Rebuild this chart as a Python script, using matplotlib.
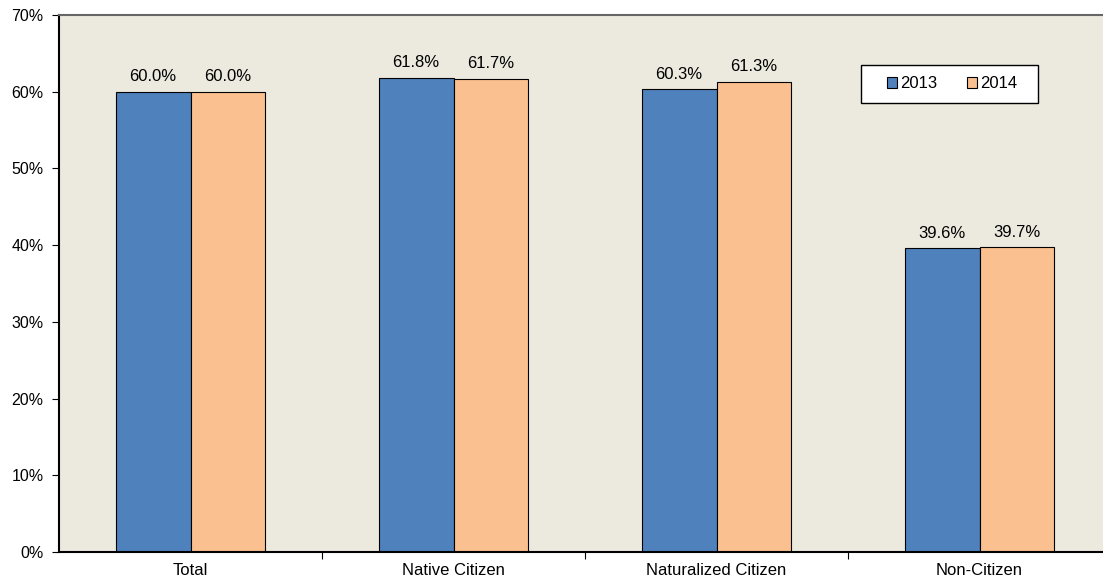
import matplotlib
matplotlib.use("Agg")
import matplotlib.pyplot as plt
from matplotlib.patches import Rectangle
import numpy as np

categories = ["Total", "Native Citizen", "Naturalized Citizen", "Non-Citizen"]
vals_2013 = [60.0, 61.8, 60.3, 39.6]
vals_2014 = [60.0, 61.7, 61.3, 39.7]
years = ["2013", "2014"]

plt.rcParams['font.family'] = ['Liberation Sans', 'DejaVu Sans']
plt.rcParams['font.size'] = 11.5

fig = plt.figure(figsize=(11.03, 5.82), dpi=100)
fig.patch.set_facecolor('white')
ax = fig.add_axes([59/1103, 30/582, 1052/1103, 537/582])
ax.set_facecolor('#ECE9DF')

x = np.arange(len(categories))
w = 0.285
b1 = ax.bar(x - w/2, vals_2013, width=w, color='#4F81BD', edgecolor='black', linewidth=0.8, label=years[0])
b2 = ax.bar(x + w/2, vals_2014, width=w, color='#FAC090', edgecolor='black', linewidth=0.8, label=years[1])

for bars, vals in [(b1, vals_2013), (b2, vals_2014)]:
    for r, v in zip(bars, vals):
        ax.annotate(f"{v:.1f}%", (r.get_x() + r.get_width()/2, v), xytext=(0, 7.5),
                    textcoords='offset points', ha='center', va='baseline', fontsize=12)

ax.set_xlim(-0.5, 3.5)
ax.set_ylim(0, 70)
ax.set_yticks(np.arange(0, 71, 10))
ax.set_yticklabels([f"{t}%" for t in range(0, 71, 10)])
ax.set_xticks(x)
ax.set_xticklabels(categories, fontsize=12)
ax.tick_params(axis='x', length=0, pad=8)
ax.set_xticks([0.5, 1.5, 2.5], minor=True)
ax.tick_params(axis='x', which='minor', length=5, direction='out', width=0.8)
ax.tick_params(axis='y', length=5, direction='out', width=0.8, pad=6)

ax.spines['left'].set_linewidth(1.5)
ax.spines['bottom'].set_linewidth(1.5)
ax.spines['top'].set_color('#666666')
ax.spines['top'].set_linewidth(1.5)
ax.spines['right'].set_visible(False)

# legend box drawn separately so the padding matches
ax.add_patch(Rectangle((802/1052, 449/537), 177/1052, 38/537, transform=ax.transAxes,
                       facecolor='white', edgecolor='black', linewidth=1.0, zorder=4))
leg = ax.legend(loc='center left', bbox_to_anchor=(828/1052, 468/537), ncol=2,
                frameon=False, handlelength=0.6, handleheight=0.6, handletextpad=0.2,
                columnspacing=1.75, borderpad=0, borderaxespad=0, fontsize=12)
leg.set_zorder(5)
for h in leg.legend_handles:
    h.set_linewidth(0.8)

fig.savefig("out.png", dpi=100)
